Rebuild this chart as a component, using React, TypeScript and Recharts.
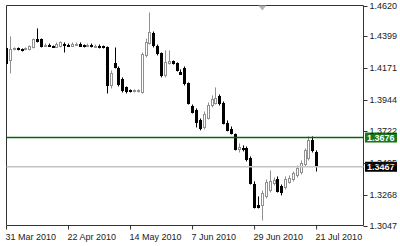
import React from 'react';
import {
  ComposedChart,
  Bar,
  XAxis,
  YAxis,
  ReferenceLine,
  ReferenceArea,
  ReferenceDot
} from 'recharts';

// daily candles, 31 Mar 2010 .. 21 Jul 2010
const openPrices = [
  1.4313, 1.4227, 1.4306, 1.4313, 1.4306, 1.4306, 1.4306, 1.4320, 1.4377, 1.4377,
  1.4334, 1.4341, 1.4327, 1.4327, 1.4327, 1.4348, 1.4341, 1.4334, 1.4341, 1.4348,
  1.4334, 1.4334, 1.4334, 1.4327, 1.4327, 1.4327, 1.4320, 1.4048, 1.4206, 1.4170,
  1.4091, 1.4034, 1.4013, 1.4006, 1.4006, 1.3998, 1.4263, 1.4348, 1.4420, 1.4327,
  1.4277, 1.4120, 1.4206, 1.4220, 1.4206, 1.4148, 1.4170, 1.4063, 1.3898, 1.3870,
  1.3798, 1.3748, 1.3820, 1.3905, 1.3927, 1.3970, 1.3920, 1.3777, 1.3734, 1.3698,
  1.3591, 1.3598, 1.3598, 1.3527, 1.3347, 1.3197, 1.3190, 1.3255, 1.3297, 1.3347,
  1.3383, 1.3326, 1.3319, 1.3362, 1.3376, 1.3405, 1.3426, 1.3483, 1.3527, 1.3655,
  1.3569
];
const highPrices = [
  1.4320, 1.4399, 1.4320, 1.4320, 1.4313, 1.4320, 1.4334, 1.4384, 1.4456, 1.4384,
  1.4348, 1.4348, 1.4334, 1.4356, 1.4363, 1.4356, 1.4348, 1.4356, 1.4356, 1.4356,
  1.4341, 1.4348, 1.4348, 1.4341, 1.4341, 1.4334, 1.4327, 1.4156, 1.4320, 1.4184,
  1.4106, 1.4041, 1.4020, 1.4020, 1.4020, 1.4284, 1.4384, 1.4570, 1.4434, 1.4341,
  1.4284, 1.4299, 1.4299, 1.4227, 1.4213, 1.4163, 1.4184, 1.4070, 1.3912, 1.3884,
  1.3812, 1.3862, 1.3927, 1.3977, 1.4034, 1.3984, 1.3934, 1.3798, 1.3755, 1.3705,
  1.3634, 1.3620, 1.3612, 1.3541, 1.3362, 1.3255, 1.3297, 1.3376, 1.3440, 1.3390,
  1.3398, 1.3340, 1.3398, 1.3405, 1.3433, 1.3476, 1.3512, 1.3598, 1.3684, 1.3684,
  1.3584
];
const lowPrices = [
  1.4198, 1.4134, 1.4299, 1.4299, 1.4291, 1.4299, 1.4299, 1.4313, 1.4356, 1.4320,
  1.4327, 1.4327, 1.4320, 1.4320, 1.4320, 1.4284, 1.4327, 1.4327, 1.4334, 1.4327,
  1.4320, 1.4327, 1.4320, 1.4320, 1.4313, 1.4313, 1.3991, 1.4027, 1.4170, 1.4041,
  1.3998, 1.3991, 1.3998, 1.3998, 1.3998, 1.3991, 1.4248, 1.4341, 1.4320, 1.4263,
  1.4106, 1.4106, 1.4198, 1.4198, 1.4148, 1.4127, 1.4048, 1.3912, 1.3848, 1.3748,
  1.3727, 1.3734, 1.3805, 1.3891, 1.3912, 1.3905, 1.3770, 1.3720, 1.3698, 1.3584,
  1.3569, 1.3577, 1.3505, 1.3340, 1.3169, 1.3169, 1.3083, 1.3240, 1.3283, 1.3333,
  1.3283, 1.3262, 1.3305, 1.3347, 1.3362, 1.3390, 1.3412, 1.3469, 1.3512, 1.3569,
  1.3433
];
const closePrices = [
  1.4206, 1.4306, 1.4313, 1.4306, 1.4302, 1.4313, 1.4327, 1.4377, 1.4363, 1.4327,
  1.4341, 1.4334, 1.4324, 1.4348, 1.4356, 1.4341, 1.4334, 1.4348, 1.4348, 1.4334,
  1.4331, 1.4338, 1.4331, 1.4331, 1.4326, 1.4320, 1.4048, 1.4134, 1.4177, 1.4056,
  1.4013, 1.4006, 1.4009, 1.4013, 1.4016, 1.4270, 1.4356, 1.4427, 1.4334, 1.4277,
  1.4120, 1.4213, 1.4220, 1.4206, 1.4156, 1.4134, 1.4063, 1.3920, 1.3855, 1.3784,
  1.3741, 1.3841, 1.3912, 1.3948, 1.3962, 1.3920, 1.3777, 1.3727, 1.3705, 1.3591,
  1.3605, 1.3594, 1.3519, 1.3347, 1.3183, 1.3183, 1.3276, 1.3355, 1.3362, 1.3369,
  1.3297, 1.3283, 1.3376, 1.3390, 1.3419, 1.3455, 1.3491, 1.3584, 1.3655, 1.3584,
  1.3467
];

const xTickBars = [0, 16, 32, 48, 64, 80];
const xTickLabels = ['31 Mar 2010', '22 Apr 2010', '14 May 2010', '7 Jun 2010', '29 Jun 2010', '21 Jul 2010'];
const yTicks = [1.3047, 1.3268, 1.3495, 1.3722, 1.3944, 1.4171, 1.4399, 1.4620];
const lineLevel = 1.3676;
const bidPrice = 1.3467;
const shiftMarkBar = 66;

const rows = openPrices.map((o, i) => ({
  i,
  open: o,
  high: highPrices[i],
  low: lowPrices[i],
  close: closePrices[i],
}));

const FONT = '"Liberation Sans", Arial, sans-serif';

const Candle = (props: any) => {
  const { x, y, width, height, payload } = props;
  if (x == null || y == null || height == null) return null;
  const top = Math.min(y, y + height);
  const h = Math.abs(height);
  const { open, close, high, low } = payload;
  const toY = (p: number) => top + ((high - p) / (high - low || 1)) * h;
  const cx = Math.round(x + width / 2) + 0.5;
  const up = close >= open;
  const yO = toY(open);
  const yC = toY(close);
  const bTop = Math.round(Math.min(yO, yC)) + 0.5;
  const bH = Math.max(Math.round(Math.abs(yO - yC)), 1);
  if (up) {
    return (
      <g>
        <line x1={cx} x2={cx} y1={top} y2={top + h} stroke="#909090" />
        <rect x={cx - 1} y={bTop} width={2} height={bH} fill="#fff" stroke="#909090" />
      </g>
    );
  }
  return (
    <g>
      <line x1={cx} x2={cx} y1={top} y2={top + h} stroke="#000" />
      <rect x={cx - 1.5} y={bTop - 0.5} width={3} height={bH + 1} fill="#000" />
    </g>
  );
};

const XTick = (props: any) => {
  const { x, y, payload } = props;
  const idx = xTickBars.indexOf(payload.value);
  return (
    <g>
      <line x1={x} x2={x} y1={y - 8} y2={y - 4} stroke="#333" />
      <text x={x - 1} y={y + 6} fontSize={9} fontFamily={FONT} fill="#222" textAnchor="start">
        {xTickLabels[idx]}
      </text>
    </g>
  );
};

const YTick = (props: any) => {
  const { x, y, payload } = props;
  return (
    <g>
      <line x1={x} x2={x + 4} y1={Math.round(y) + 0.5} y2={Math.round(y) + 0.5} stroke="#333" />
      <text x={x + 6} y={y + 3} fontSize={9} fontFamily={FONT} fill="#222" textAnchor="start">
        {payload.value.toFixed(4)}
      </text>
    </g>
  );
};

const PriceTag = (props: any) => {
  const { viewBox, text, bg } = props;
  if (!viewBox) return null;
  const x = viewBox.x + viewBox.width + 1.5;
  const y = viewBox.y;
  return (
    <g>
      <rect x={x} y={y - 5} width={32} height={10} fill={bg} />
      <text x={x + 2} y={y + 3.5} fontSize={9} fontFamily={FONT} fill="#fff" fontWeight="bold" textAnchor="start">
        {text}
      </text>
    </g>
  );
};

const ShiftMark = (props: any) => {
  const { cx, cy } = props;
  return <path d={`M${cx - 4},${cy} L${cx + 4},${cy} L${cx},${cy + 5} Z`} fill="#b4b4b4" />;
};

export default function App() {
  return (
    <div style={{ position: 'absolute', left: 0, top: 0, width: 400, height: 246, background: '#fff' }}>
      <ComposedChart
        width={400}
        height={246}
        data={rows}
        margin={{ top: 5.5, left: 6.5, right: 0, bottom: 0 }}
      >
        <XAxis
          type="number"
          dataKey="i"
          domain={[0, 92.1]}
          ticks={xTickBars}
          tick={<XTick />}
          tickLine={false}
          axisLine={false}
          height={20.5}
          interval={0}
          allowDataOverflow
        />
        <YAxis
          orientation="right"
          domain={[1.3047, 1.462]}
          ticks={yTicks}
          tick={<YTick />}
          tickLine={false}
          axisLine={false}
          width={36.5}
          tickSize={0}
          tickMargin={0}
          interval={0}
          allowDataOverflow
        />
        <ReferenceArea y1={1.3047} y2={1.462} fill="none" stroke="#333" strokeWidth={1} ifOverflow="visible" />
        <ReferenceLine
          y={bidPrice}
          stroke="#c4c4c4"
          strokeWidth={1.5}
          label={<PriceTag text={bidPrice.toFixed(4)} bg="#000" />}
        />
        <ReferenceLine
          y={lineLevel}
          stroke="#0b630b"
          strokeWidth={1.5}
          label={<PriceTag text={lineLevel.toFixed(4)} bg="#187818" />}
        />
        <Bar
          dataKey={(d: any) => [d.low, d.high]}
          barSize={3}
          shape={<Candle />}
          isAnimationActive={false}
        />
        <ReferenceDot x={shiftMarkBar} y={1.462} r={4} shape={<ShiftMark />} ifOverflow="visible" />
      </ComposedChart>
    </div>
  );
}
